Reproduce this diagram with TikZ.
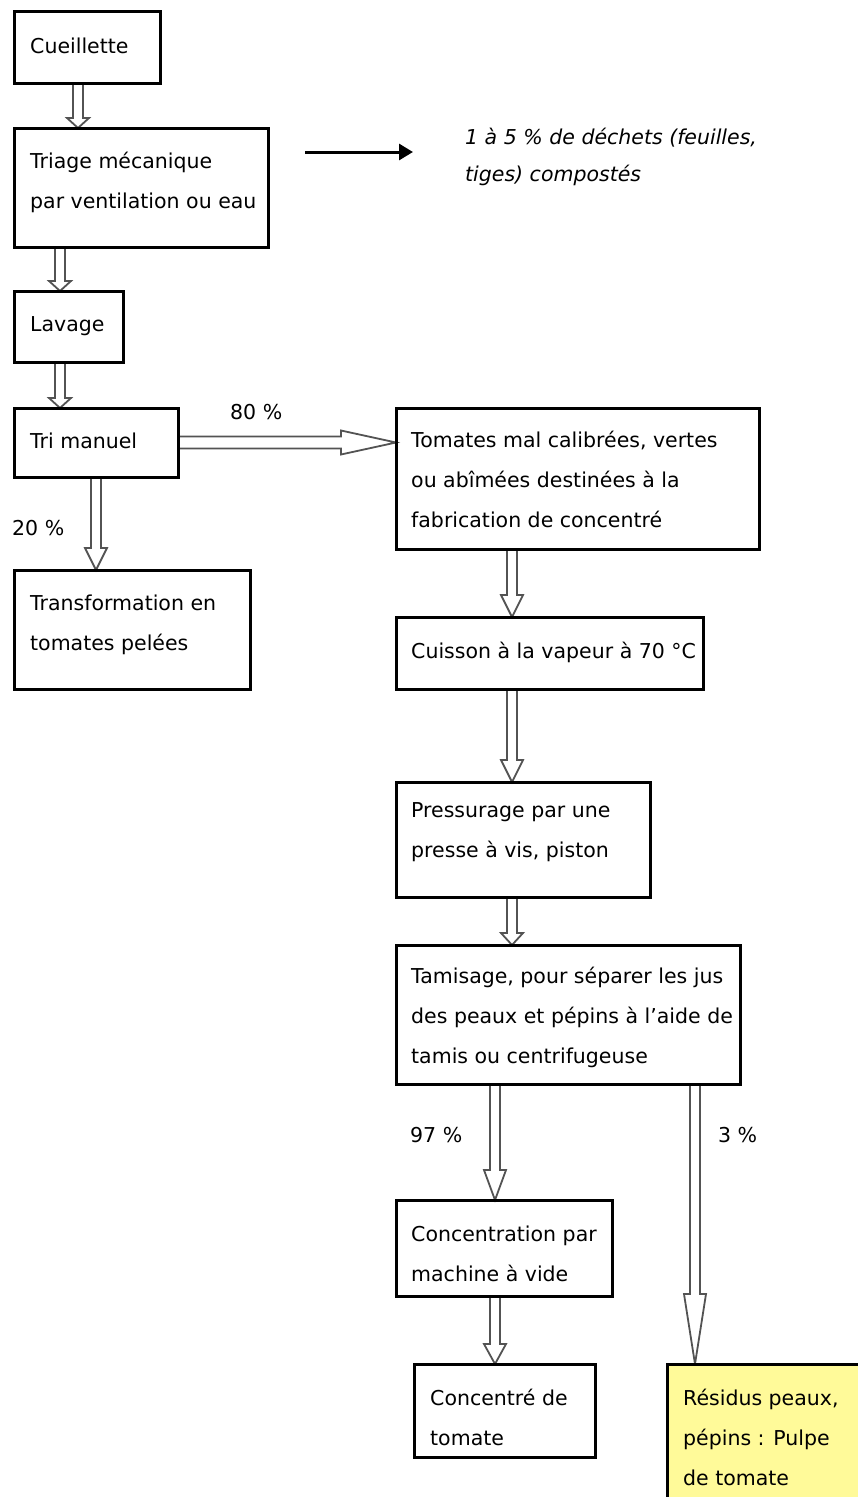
\documentclass[tikz,border=0pt]{standalone}
\usepackage{fontspec}
\setmainfont{DejaVu Sans}
\usetikzlibrary{calc,arrows.meta,backgrounds}
\tikzset{
  box/.style={draw, line width=3pt, inner sep=0pt, outer sep=0pt, anchor=north west},
  txt/.style={anchor=west, align=left, inner sep=0pt, font={\fontsize{20.5}{40}\selectfont}},
  lab/.style={anchor=west, inner sep=0pt, font={\fontsize{20.5}{40}\selectfont}},
  waste/.style={anchor=west, align=left, inner sep=0pt, font={\fontsize{20.5}{37}\selectfont\itshape}},
  flow/.style={draw=gray!65!black, line width=1.8pt, fill=white, line join=miter},
  blackarrow/.style={line width=3pt, -{Triangle[length=14pt,width=16pt]}}
}
\newcommand\vflow[3]{\draw[flow] let \p1=(#1), \p2=(#2) in
  (\x1-5pt,\y1) -- (\x1-5pt,\y2+#3) -- (\x1-11pt,\y2+#3) -- (\x1,\y2)
  -- (\x1+11pt,\y2+#3) -- (\x1+5pt,\y2+#3) -- (\x1+5pt,\y1);}
\newcommand\hflow[3]{\draw[flow] let \p1=(#1), \p2=(#2) in
  (\x1,\y1+6pt) -- (\x2-#3,\y1+6pt) -- (\x2-#3,\y1+12pt) -- (\x2,\y1)
  -- (\x2-#3,\y1-12pt) -- (\x2-#3,\y1-6pt) -- (\x1,\y1-6pt);}
\begin{document}
\begin{tikzpicture}[x=1pt,y=-1pt]
\useasboundingbox (0,0) rectangle (858,1497);
% boxes
\node[box, minimum width=146pt, minimum height=72pt] (cue) at (14,11) {};
\node[box, minimum width=254pt, minimum height=119pt] (tri) at (14,128) {};
\node[box, minimum width=109pt, minimum height=71pt] (lav) at (14,291) {};
\node[box, minimum width=164pt, minimum height=69pt] (man) at (14,408) {};
\node[box, minimum width=363pt, minimum height=141pt] (tom) at (396,408) {};
\node[box, minimum width=236pt, minimum height=119pt] (tra) at (14,570) {};
\node[box, minimum width=307pt, minimum height=72pt] (cui) at (396,617) {};
\node[box, minimum width=254pt, minimum height=115pt] (pre) at (396,782) {};
\node[box, minimum width=344pt, minimum height=139pt] (tam) at (396,945) {};
\node[box, minimum width=216pt, minimum height=96pt] (con) at (396,1200) {};
\node[box, minimum width=181pt, minimum height=93pt] (cde) at (414,1364) {};
\node[box, fill=yellow!40, minimum width=210pt, minimum height=150pt] (res) at (667,1364) {};
% texts
\node[txt] (tcue) at (30,46) {Cueillette};
\node[txt] (ttri) at (30,182.5) {Triage mécanique\\par ventilation ou eau};
\node[txt] (tlav) at (30,326) {Lavage};
\node[txt] (tman) at (30,441) {Tri manuel};
\node[txt] (ttom) at (411,479) {Tomates mal calibrées, vertes\\ou abîmées destinées à la\\fabrication de concentré};
\node[txt] (ttra) at (30,624.5) {Transformation en\\tomates pelées};
\node[txt] (tcui) at (411,652) {Cuisson à la vapeur à 70 °C};
\node[txt] (tpre) at (411,832.5) {Pressurage par une\\presse à vis, piston};
\node[txt] (ttam) at (411,1017) {Tamisage, pour séparer les jus\\des peaux et pépins à l'aide de\\tamis ou centrifugeuse};
\node[txt] (tcon) at (411,1253.5) {Concentration par\\machine à vide};
\node[txt] (tcde) at (430,1417) {Concentré de\\tomate};
\node[txt] (tres) at (683,1437) {Résidus peaux,\\pépins : Pulpe\\de tomate};
\node[waste] (twaste) at (465,156.5) {1 à 5 \% de déchets (feuilles,\\tiges) compostés};
\node[lab] (l80) at (230,412) {80 \%};
\node[lab] (l20) at (12,528) {20 \%};
\node[lab] (l97) at (410,1135) {97 \%};
\node[lab] (l3) at (718,1135) {3 \%};
% connectors
\begin{pgfonlayer}{background}
\vflow{78,0 |- cue.south}{78,0 |- tri.north}{10pt}
\vflow{60,0 |- tri.south}{60,0 |- lav.north}{10pt}
\vflow{60,0 |- lav.south}{60,0 |- man.north}{10pt}
\hflow{man.east}{tom.west |- man.east}{55pt}
\vflow{96,0 |- man.south}{96,0 |- tra.north}{22pt}
\vflow{512,0 |- tom.south}{512,0 |- cui.north}{22pt}
\vflow{512,0 |- cui.south}{512,0 |- pre.north}{22pt}
\vflow{512,0 |- pre.south}{512,0 |- tam.north}{12pt}
\vflow{495,0 |- tam.south}{495,0 |- con.north}{30pt}
\vflow{695,0 |- tam.south}{695,0 |- res.north}{70pt}
\vflow{495,0 |- con.south}{495,0 |- cde.north}{20pt}
\end{pgfonlayer}
\coordinate (w0) at (305,152);
\coordinate (w1) at (413,152);
\draw[blackarrow] (w0) -- (w1);
\end{tikzpicture}
\end{document}
